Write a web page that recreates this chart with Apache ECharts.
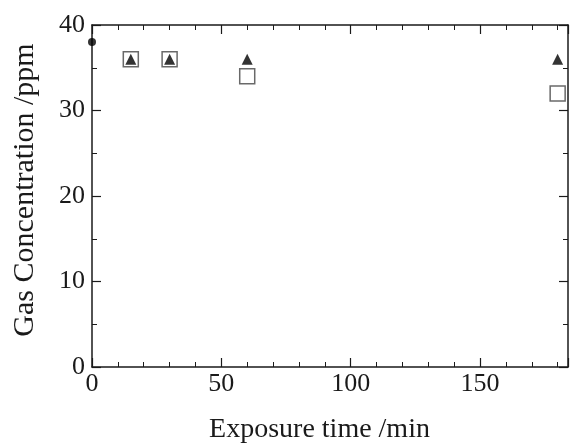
<!DOCTYPE html>
<html lang="en">
<head>
    <meta charset="UTF-8">
    <title>Gas concentration vs exposure time</title>
    <script src="https://cdn.jsdelivr.net/npm/echarts@6/dist/echarts.min.js"></script>
    <style>
        html, body { margin: 0; padding: 0; background: #fff; }
        #chart { width: 571px; height: 447px; }
    </style>
</head>
<body>
<div id="chart"></div>

<script>
    // data
    const initialPoint = [[0, 38]];
    const squarePoints = [[15, 36], [30, 36], [60, 34], [180, 32]];
    const trianglePoints = [[15, 36], [30, 36], [60, 36], [180, 36]];

    const xTitle = 'Exposure time /min';
    const yTitle = 'Gas Concentration /ppm';

    let chart = echarts.init(document.getElementById('chart'));

    const font = 'Liberation Serif';
    const ink = '#1a1a1a';

    // shared axis style (ticks inside, like the original plot)
    function axisBase(extra) {
        return Object.assign({
            axisLine: { onZero: false, lineStyle: { color: ink, width: 1.5 } },
            axisTick: { inside: true, length: 9, lineStyle: { color: ink, width: 1.2 } },
            minorTick: { show: true, length: 5, lineStyle: { color: ink, width: 1 } },
            splitLine: { show: false },
            axisLabel: { color: ink, fontFamily: font, fontSize: 26 }
        }, extra);
    }

    const xLabelFmt = v => (v % 50 === 0 ? String(v) : '');

    chart.setOption({
        backgroundColor: '#fff',
        animation: false,
        grid: { left: 92, right: 3, top: 25, bottom: 80, outerBoundsMode: 'none' },
        xAxis: [
            axisBase({
                type: 'value', min: 0, max: 184, interval: 50,
                minorTick: { show: true, splitNumber: 5, length: 5, lineStyle: { color: ink, width: 1 } },
                axisLabel: { color: ink, fontFamily: font, fontSize: 26, margin: 4, formatter: xLabelFmt },
                name: xTitle, nameLocation: 'middle', nameGap: 49,
                nameTextStyle: { color: ink, fontFamily: font, fontSize: 28, padding: [0, 21, 0, 0] }
            }),
            axisBase({
                type: 'value', position: 'top', min: 0, max: 184, interval: 50,
                minorTick: { show: true, splitNumber: 5, length: 5, lineStyle: { color: ink, width: 1 } },
                axisLabel: { show: false }
            })
        ],
        yAxis: [
            axisBase({
                type: 'value', min: 0, max: 40, interval: 10,
                minorTick: { show: true, splitNumber: 2, length: 5, lineStyle: { color: ink, width: 1 } },
                axisLabel: { color: ink, fontFamily: font, fontSize: 26, margin: 7 },
                name: yTitle, nameLocation: 'middle', nameGap: 52,
                nameTextStyle: { color: ink, fontFamily: font, fontSize: 30, padding: [0, 0, 0, 12] }
            }),
            axisBase({
                type: 'value', position: 'right', min: 0, max: 40, interval: 10,
                minorTick: { show: true, splitNumber: 2, length: 5, lineStyle: { color: ink, width: 1 } },
                axisLabel: { show: false }
            })
        ],
        series: [
            {
                type: 'scatter',
                data: squarePoints,
                symbol: 'rect',
                symbolSize: 15,
                itemStyle: { color: '#fff', borderColor: '#444', borderWidth: 1.5 },
                z: 2
            },
            {
                type: 'scatter',
                data: trianglePoints,
                symbol: 'triangle',
                symbolSize: 11,
                itemStyle: { color: '#000' },
                z: 3
            },
            {
                type: 'scatter',
                data: initialPoint,
                symbol: 'circle',
                symbolSize: 8,
                itemStyle: { color: '#000' },
                clip: false,
                z: 3
            }
        ]
    });
</script>
</body>
</html>
